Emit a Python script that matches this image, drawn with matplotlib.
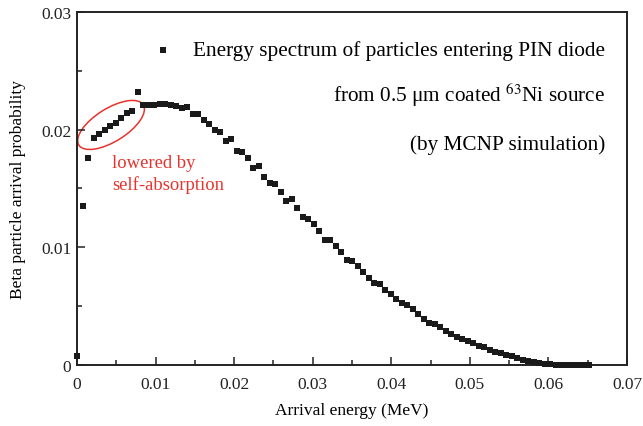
import numpy as np
import matplotlib
matplotlib.use('Agg')
import matplotlib.pyplot as plt
from matplotlib.patches import Ellipse
from matplotlib.transforms import ScaledTranslation
from matplotlib.ticker import MultipleLocator

plt.rcParams['font.family'] = ['Liberation Serif', 'DejaVu Serif']
plt.rcParams['mathtext.fontset'] = 'stix'

# arrival energy (MeV)
energy = [0.0000, 0.0007, 0.0014, 0.0021, 0.0028, 0.0035, 0.0042, 0.0049,
          0.0056, 0.0063, 0.0070, 0.0077, 0.0084, 0.0091, 0.0098, 0.0105,
          0.0112, 0.0119, 0.0126, 0.0133, 0.0140, 0.0147, 0.0154, 0.0161,
          0.0168, 0.0175, 0.0182, 0.0189, 0.0196, 0.0203, 0.0210, 0.0217,
          0.0224, 0.0231, 0.0238, 0.0245, 0.0252, 0.0259, 0.0266, 0.0273,
          0.0280, 0.0287, 0.0294, 0.0301, 0.0308, 0.0315, 0.0322, 0.0329,
          0.0336, 0.0343, 0.0350, 0.0357, 0.0364, 0.0371, 0.0378, 0.0385,
          0.0392, 0.0399, 0.0406, 0.0413, 0.0420, 0.0427, 0.0434, 0.0441,
          0.0448, 0.0455, 0.0462, 0.0469, 0.0476, 0.0483, 0.0490, 0.0497,
          0.0504, 0.0511, 0.0518, 0.0525, 0.0532, 0.0539, 0.0546, 0.0553,
          0.0560, 0.0567, 0.0574, 0.0581, 0.0588, 0.0595, 0.0602, 0.0609,
          0.0616, 0.0623, 0.0630, 0.0637, 0.0644, 0.0651]

# arrival probability
prob = [0.0008, 0.0135, 0.0176, 0.0193, 0.0196, 0.0200, 0.0203, 0.0206,
        0.0210, 0.0214, 0.0216, 0.0232, 0.0221, 0.0221, 0.0221, 0.0222,
        0.0222, 0.0221, 0.0220, 0.0218, 0.0219, 0.0213, 0.0213, 0.0208,
        0.0205, 0.0200, 0.0198, 0.0190, 0.0192, 0.0182, 0.0181, 0.0176,
        0.0167, 0.0169, 0.0160, 0.0155, 0.0154, 0.0147, 0.0139, 0.0141,
        0.0133, 0.0126, 0.0124, 0.0120, 0.0114, 0.0106, 0.0106, 0.0101,
        0.0096, 0.0089, 0.0088, 0.0084, 0.0079, 0.0074, 0.0070, 0.0069,
        0.0064, 0.0060, 0.0056, 0.0053, 0.0051, 0.0048, 0.0043, 0.0039,
        0.0036, 0.0035, 0.0032, 0.0029, 0.0026, 0.0024, 0.0022, 0.0020,
        0.00184, 0.00164, 0.0015, 0.00127, 0.00108, 0.00099, 0.00088, 0.00074,
        0.0006, 0.00045, 0.00034, 0.00023, 0.00014, 0.00009, 0.00005, 0.00003,
        0.00002, 0.00001, 0.00001, 0.0, 0.0, 0.0]

xticks = [0, 0.01, 0.02, 0.03, 0.04, 0.05, 0.06, 0.07]
xticklabels = ['0', '0.01', '0.02', '0.03', '0.04', '0.05', '0.06', '0.07']
yticks = [0, 0.01, 0.02, 0.03]
yticklabels = ['0', '0.01', '0.02', '0.03']

red = '#e8332c'

fig = plt.figure(figsize=(6.43, 4.27), dpi=100)
ax = fig.add_axes([0.1198, 0.1429, 0.8554, 0.8267])

ax.plot(energy, prob, 's', color='#1a1a1a', ms=4.2, mew=0, clip_on=False,
        zorder=3)

ax.set_xlim(0, 0.07)
ax.set_ylim(0, 0.03)
ax.set_xticks(xticks)
ax.set_xticklabels(xticklabels)
ax.set_yticks(yticks)
ax.set_yticklabels(yticklabels)
ax.xaxis.set_minor_locator(MultipleLocator(0.005))
ax.yaxis.set_minor_locator(MultipleLocator(0.005))
ax.tick_params(which='both', direction='in', width=1.1, colors='#222222',
               labelsize=12.5)
ax.tick_params(which='major', length=6)
ax.tick_params(which='minor', length=3.5)
ax.tick_params(axis='x', pad=8)
ax.tick_params(axis='y', pad=4)
for s in ax.spines.values():
    s.set_linewidth(1.4)
    s.set_color('#222222')

ax.set_xlabel('Arrival energy (MeV)', fontsize=12.5, labelpad=7)
ax.set_ylabel('Beta particle arrival probability', fontsize=12.5,
              labelpad=11)

# legend-like text block
ax.plot([0.0110], [0.0268], 's', color='#1a1a1a', ms=5, mew=0)
ax.text(0.0672, 0.0268, 'Energy spectrum of particles entering PIN diode',
        ha='right', va='center', fontsize=15.3)
ax.text(0.0672, 0.0230, 'from 0.5 \u03bcm coated $^{63}$Ni source',
        ha='right', va='center', fontsize=15.3)
ax.text(0.0672, 0.0188, '(by MCNP simulation)',
        ha='right', va='center', fontsize=15.3)

# red annotation
trans = fig.dpi_scale_trans + ScaledTranslation(0.00433, 0.0204, ax.transData)
ax.add_patch(Ellipse((0, 0), 0.76, 0.33, angle=32, transform=trans,
                     fill=False, ec=red, lw=1.1))
ax.text(0.00445, 0.0163, 'lowered by\nself-absorption', color=red,
        ha='left', va='center', fontsize=13.4, linespacing=1.3)

fig.savefig('out.png', dpi=100)
